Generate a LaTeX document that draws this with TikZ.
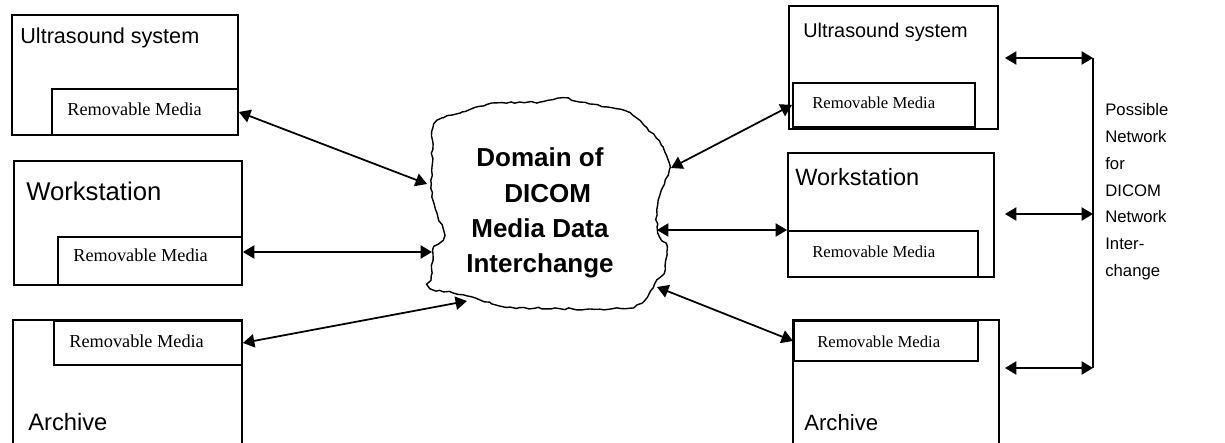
\documentclass[tikz,border=0pt]{standalone}
\usepackage{fontspec}
\setmainfont{Liberation Serif}
\newfontfamily\arialfont{Liberation Sans}
\usetikzlibrary{arrows.meta}
\usetikzlibrary{decorations.pathmorphing}

\tikzset{
  unitbox/.style={draw, line width=1.1pt, inner sep=0pt, anchor=north west},
  mediabox/.style={draw, line width=1.1pt, inner sep=0pt, anchor=north west},
  title/.style={anchor=base west, inner sep=0pt},
  medialabel/.style={anchor=base west, inner sep=0pt},
  link/.style={{Triangle[length=6.5pt,width=7.5pt]}-{Triangle[length=6.5pt,width=7.5pt]}, line width=1pt},
}

\begin{document}
\begin{tikzpicture}[x=0.02cm, y=-0.02cm]
  \useasboundingbox (0,0) rectangle (1225,443);

  % Left devices
  \node[unitbox, minimum width=4.52cm, minimum height=2.4cm] (lus) at (11,14) {};
  \node[mediabox, minimum width=3.72cm, minimum height=0.92cm] (lusm) at (51,88) {};
  \node[title, font=\arialfont\fontsize{12.3}{14}\selectfont] (lust) at (20,43) {Ultrasound system};
  \node[medialabel, font=\fontsize{10.4}{12}\selectfont] (lusl) at (67,115) {Removable Media};

  \node[unitbox, minimum width=4.56cm, minimum height=2.48cm] (lws) at (13,160) {};
  \node[mediabox, minimum width=3.68cm, minimum height=0.96cm] (lwsm) at (57,236) {};
  \node[title, font=\arialfont\fontsize{14.6}{16}\selectfont] (lwst) at (26,200) {Workstation};
  \node[medialabel, font=\fontsize{10.4}{12}\selectfont] (lwsl) at (73,261) {Removable Media};

  \node[inner sep=0pt, anchor=north west, minimum width=4.56cm, minimum height=2.46cm] (lar) at (13,320) {};
  \draw[line width=1.1pt] (lar.south west) -- (lar.north west) -- (lar.north east) -- (lar.south east);
  \node[mediabox, minimum width=3.76cm, minimum height=0.88cm] (larm) at (53,320) {};
  \node[title, font=\arialfont\fontsize{13.5}{15}\selectfont] (lart) at (28,430) {Archive};
  \node[medialabel, font=\fontsize{10.4}{12}\selectfont] (larl) at (69,347) {Removable Media};

  % Right devices
  \node[unitbox, minimum width=4.18cm, minimum height=2.46cm] (rus) at (788,5) {};
  \node[mediabox, minimum width=3.64cm, minimum height=0.88cm] (rusm) at (792,82) {};
  \node[title, font=\arialfont\fontsize{11.3}{13}\selectfont] (rust) at (803,37) {Ultrasound system};
  \node[medialabel, font=\fontsize{9.5}{11}\selectfont] (rusl) at (812,108) {Removable Media};

  \node[unitbox, minimum width=4.12cm, minimum height=2.48cm] (rws) at (787,152) {};
  \node[mediabox, minimum width=3.8cm, minimum height=0.92cm] (rwsm) at (787,230) {};
  \node[title, font=\arialfont\fontsize{13.4}{15}\selectfont] (rwst) at (795,185) {Workstation};
  \node[medialabel, font=\fontsize{9.5}{11}\selectfont] (rwsl) at (812,257) {Removable Media};

  \node[inner sep=0pt, anchor=north west, minimum width=4.1cm, minimum height=2.46cm] (rar) at (793,320) {};
  \draw[line width=1.1pt] (rar.south west) -- (rar.north west) -- (rar.north east) -- (rar.south east);
  \node[mediabox, minimum width=3.68cm, minimum height=0.8cm] (rarm) at (793,320) {};
  \node[title, font=\arialfont\fontsize{12.6}{14}\selectfont] (rart) at (804,430) {Archive};
  \node[medialabel, font=\fontsize{9.5}{11}\selectfont] (rarl) at (817,347) {Removable Media};

  % Media interchange domain
  \pgfmathsetseed{11}
  \draw[line width=0.8pt, decorate, decoration={random steps, segment length=2.5pt, amplitude=0.6pt}]
    plot[smooth cycle, tension=0.4] coordinates {
      (433,128) (443,118) (462,112) (497,103) (540,102) (563,98) (580,102)
      (607,107) (630,113) (647,128) (663,147) (670,167) (663,187) (657,210)
      (658,233) (667,247) (665,270) (657,280) (647,297) (630,308) (573,309)
      (510,307) (480,300) (453,293) (430,288) (432,273) (433,250) (443,240)
      (443,230) (437,213) (432,197) (432,167)};
  \node[align=center, font=\arialfont\bfseries\fontsize{14.8}{20}\selectfont] (domain) at (540,213)
    {Domain of\\\hspace*{0.6em}DICOM\\Media Data\\Interchange};

  \coordinate (ca) at (427,184);
  \coordinate (cb) at (432,252);
  \coordinate (cc) at (467,301);
  \coordinate (cd) at (671,168);
  \coordinate (ce) at (657,230);
  \coordinate (cf) at (657,287);

  \draw[link] (lusm.east) -- (ca);
  \draw[link] (lwsm.east |- cb) -- (cb);
  \draw[link] (larm.east) -- (cc);
  \draw[link] (cd) -- (rusm.west);
  \draw[link] (ce) -- (rwsm.north west);
  \draw[link] (cf) -- (rarm.west);

  % Network
  \coordinate (net1) at (1093,58);
  \coordinate (net2) at (1093,214);
  \coordinate (net3) at (1093,368);
  \coordinate (tap1) at (1005,58);
  \coordinate (tap2) at (1005,214);
  \coordinate (tap3) at (1005,368);
  \draw[line width=1.1pt] (net1) -- (net3);
  \draw[link] (tap1) -- (net1);
  \draw[link] (tap2) -- (net2);
  \draw[link] (tap3) -- (net3);
  \node[anchor=north west, inner sep=0pt, align=left, font=\arialfont\fontsize{9.5}{15.3}\selectfont] (nettext) at (1105,103)
    {Possible\\Network\\for\\DICOM\\Network\\Inter-\\change};
\end{tikzpicture}
\end{document}
